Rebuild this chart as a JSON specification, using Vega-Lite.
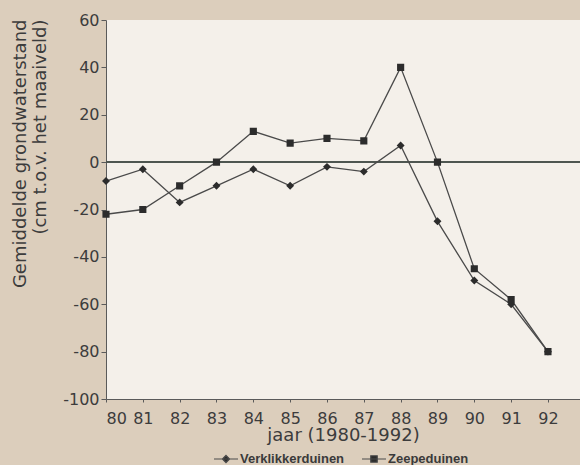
{
  "$schema": "https://vega.github.io/schema/vega-lite/v6.json",
  "width": 474,
  "height": 379,
  "autosize": "none",
  "padding": {"left": 106, "top": 20, "right": 0, "bottom": 66},
  "background": "#dccebc",
  "config": {
    "view": {"fill": "#f4f0ea", "stroke": null},
    "axis": {
      "labelFont": "DejaVu Sans",
      "labelFontSize": 16,
      "labelColor": "#3c3c3c",
      "titleFont": "DejaVu Sans",
      "titleFontSize": 18,
      "titleFontWeight": "normal",
      "titleColor": "#3c3c3c",
      "domainColor": "#5a5a5a",
      "tickColor": "#5a5a5a",
      "grid": false
    },
    "legend": {
      "title": null,
      "orient": "none",
      "direction": "horizontal",
      "legendX": 107,
      "legendY": 426,
      "symbolSize": 576,
      "symbolFillColor": "#2c2c2c",
      "symbolStrokeWidth": 1.2,
      "symbolOpacity": 1,
      "labelOffset": 1,
      "columnPadding": 14,
      "labelFont": "Liberation Sans",
      "labelFontSize": 13,
      "labelFontWeight": "bold",
      "labelColor": "#3a3a3a"
    }
  },
  "data": {
    "values": [
      {"jaar": 80, "reeks": "Verklikkerduinen", "stand": -8},
      {"jaar": 81, "reeks": "Verklikkerduinen", "stand": -3},
      {"jaar": 82, "reeks": "Verklikkerduinen", "stand": -17},
      {"jaar": 83, "reeks": "Verklikkerduinen", "stand": -10},
      {"jaar": 84, "reeks": "Verklikkerduinen", "stand": -3},
      {"jaar": 85, "reeks": "Verklikkerduinen", "stand": -10},
      {"jaar": 86, "reeks": "Verklikkerduinen", "stand": -2},
      {"jaar": 87, "reeks": "Verklikkerduinen", "stand": -4},
      {"jaar": 88, "reeks": "Verklikkerduinen", "stand": 7},
      {"jaar": 89, "reeks": "Verklikkerduinen", "stand": -25},
      {"jaar": 90, "reeks": "Verklikkerduinen", "stand": -50},
      {"jaar": 91, "reeks": "Verklikkerduinen", "stand": -60},
      {"jaar": 92, "reeks": "Verklikkerduinen", "stand": -80},
      {"jaar": 80, "reeks": "Zeepeduinen", "stand": -22},
      {"jaar": 81, "reeks": "Zeepeduinen", "stand": -20},
      {"jaar": 82, "reeks": "Zeepeduinen", "stand": -10},
      {"jaar": 83, "reeks": "Zeepeduinen", "stand": 0},
      {"jaar": 84, "reeks": "Zeepeduinen", "stand": 13},
      {"jaar": 85, "reeks": "Zeepeduinen", "stand": 8},
      {"jaar": 86, "reeks": "Zeepeduinen", "stand": 10},
      {"jaar": 87, "reeks": "Zeepeduinen", "stand": 9},
      {"jaar": 88, "reeks": "Zeepeduinen", "stand": 40},
      {"jaar": 89, "reeks": "Zeepeduinen", "stand": 0},
      {"jaar": 90, "reeks": "Zeepeduinen", "stand": -45},
      {"jaar": 91, "reeks": "Zeepeduinen", "stand": -58},
      {"jaar": 92, "reeks": "Zeepeduinen", "stand": -80}
    ]
  },
  "encoding": {
    "x": {
      "field": "jaar",
      "type": "quantitative",
      "scale": {"domain": [80, 92.87], "nice": false, "zero": false},
      "axis": {
        "values": [80, 81, 82, 83, 84, 85, 86, 87, 88, 89, 90, 91, 92],
        "labelExpr": "'' + datum.value",
        "tickSize": 3,
        "labelPadding": 8,
        "title": "jaar (1980-1992)",
        "titleBaseline": "alphabetic",
        "titleY": 41
      }
    },
    "y": {
      "field": "stand",
      "type": "quantitative",
      "scale": {"domain": [-100, 60], "nice": false},
      "axis": {
        "values": [-100, -80, -60, -40, -20, 0, 20, 40, 60],
        "labelExpr": "'' + datum.value",
        "tickSize": 5,
        "labelPadding": 2,
        "title": ["Gemiddelde grondwaterstand", "(cm t.o.v. het maaiveld)"],
        "titleAngle": -90,
        "titleAlign": "right",
        "titleBaseline": "top",
        "titleLineHeight": 20,
        "titleX": -95,
        "titleY": -1
      }
    }
  },
  "layer": [
    {
      "mark": {"type": "rule", "color": "#4f5752", "strokeWidth": 1},
      "encoding": {"y": {"datum": 0}, "x": null}
    },
    {
      "mark": {"type": "line", "strokeWidth": 1.3},
      "encoding": {
        "stroke": {
          "field": "reeks",
          "type": "nominal",
          "scale": {"domain": ["Verklikkerduinen", "Zeepeduinen"], "range": ["#4a4a4a", "#4a4a4a"]}
        }
      }
    },
    {
      "mark": {"type": "point", "filled": true, "color": "#2c2c2c", "opacity": 1, "size": 700},
      "encoding": {
        "shape": {
          "field": "reeks",
          "type": "nominal",
          "scale": {
            "domain": ["Verklikkerduinen", "Zeepeduinen"],
            "range": [
              "M-1,0H1M0,-0.3L0.3,0L0,0.3L-0.3,0Z",
              "M-1,0H1M-0.27,-0.27H0.27V0.27H-0.27Z"
            ]
          }
        }
      }
    }
  ]
}
